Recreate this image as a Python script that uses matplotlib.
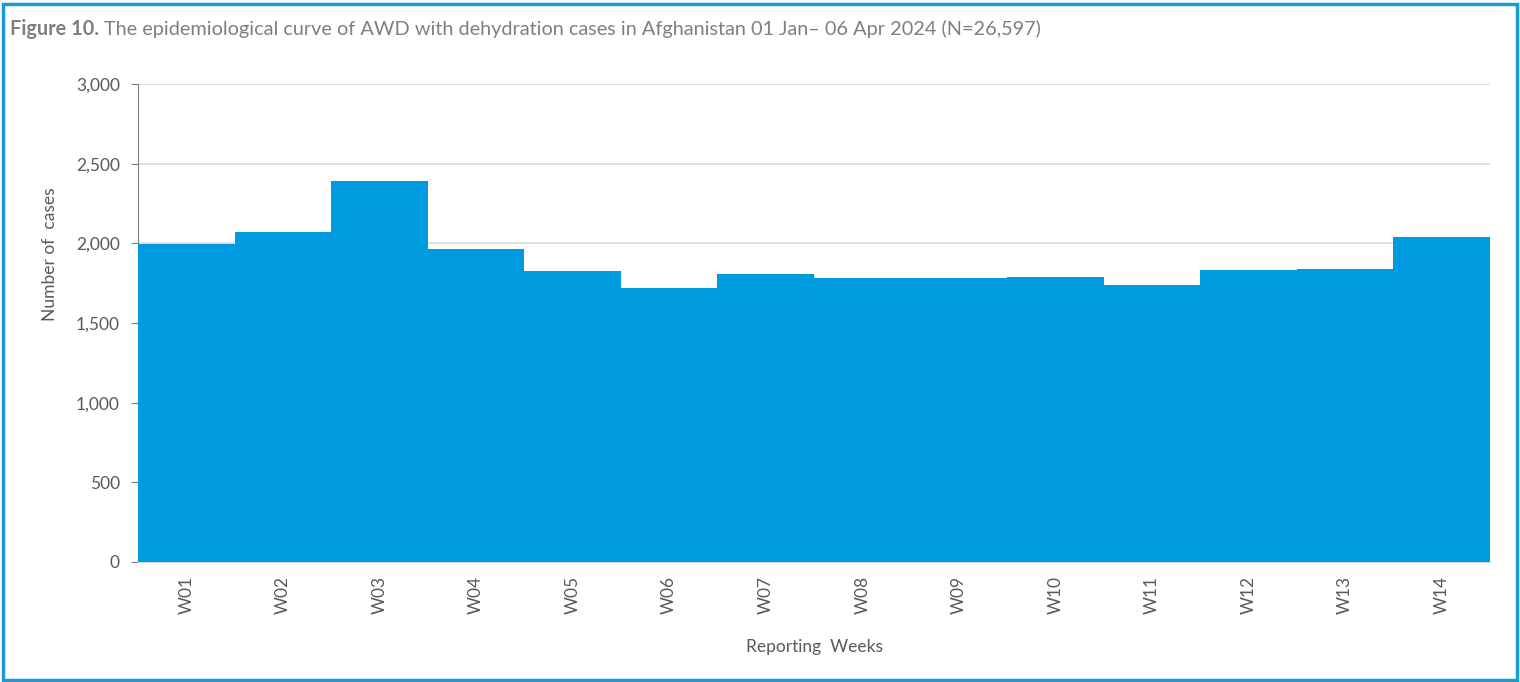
import matplotlib.pyplot as plt
from matplotlib.patches import Rectangle
from matplotlib.ticker import FuncFormatter
from matplotlib.transforms import offset_copy

weeks = ['W01', 'W02', 'W03', 'W04', 'W05', 'W06', 'W07',
         'W08', 'W09', 'W10', 'W11', 'W12', 'W13', 'W14']
cases = [1995, 2068, 2392, 1966, 1828, 1722, 1808,
         1784, 1784, 1790, 1740, 1834, 1836, 2042]

plt.rcParams['font.family'] = ['Lato', 'DejaVu Sans']
grey = '#595959'

fig = plt.figure(figsize=(15.2, 6.82), dpi=100)
ax = fig.add_axes([138 / 1520, 1 - 562 / 682, (1490 - 138) / 1520, (562 - 84) / 682])

# blue frame around the whole figure
fig.patches.append(Rectangle((3 / 1520, 2 / 682), 1514 / 1520, 676 / 682,
                             transform=fig.transFigure, fill=False,
                             edgecolor='#1a9ad6', linewidth=2.5))

t1 = fig.text(10 / 1520, 1 - 29 / 682, 'Figure 10.', color='#7f7f7f', fontsize=14.3,
              fontweight='bold', va='center', ha='left')
fig.canvas.draw()
w = t1.get_window_extent().width
fig.text(10 / 1520, 1 - 29 / 682,
         'The epidemiological curve of AWD with dehydration cases in Afghanistan 01 Jan\u2013 06 Apr 2024 (N=26,597)',
         color='#7f7f7f', fontsize=14.3, va='center', ha='left',
         transform=offset_copy(fig.transFigure, fig=fig, x=w + 5, units='dots'))

x = list(range(len(weeks)))
ax.bar(x, cases, width=1.0, color='#009ade', linewidth=0, zorder=3)
ax.set_xlim(-0.5, len(weeks) - 0.5)
ax.set_ylim(0, 3000)
ax.set_yticks(range(0, 3001, 500))
ax.yaxis.set_major_formatter(FuncFormatter(lambda v, p: f'{int(v):,}'))
ax.grid(axis='y', color='#d9d9d9', linewidth=1.2, zorder=0)
ax.set_xticks(x)
ax.set_xticklabels(weeks, rotation=90)

for s in ['top', 'right']:
    ax.spines[s].set_visible(False)
ax.spines['left'].set_color('#808080')
ax.spines['bottom'].set_color('#d9d9d9')
ax.tick_params(axis='y', colors=grey, labelsize=12.5, length=5, color='#808080', pad=8)
ax.tick_params(axis='x', colors=grey, labelsize=12.5, length=0, pad=10)

ax.set_ylabel('Number of  cases', color=grey, fontsize=12.5, labelpad=13, y=0.645)
ax.set_xlabel('Reporting  Weeks', color=grey, fontsize=12.5, labelpad=18)

fig.savefig('out.png', dpi=100)
